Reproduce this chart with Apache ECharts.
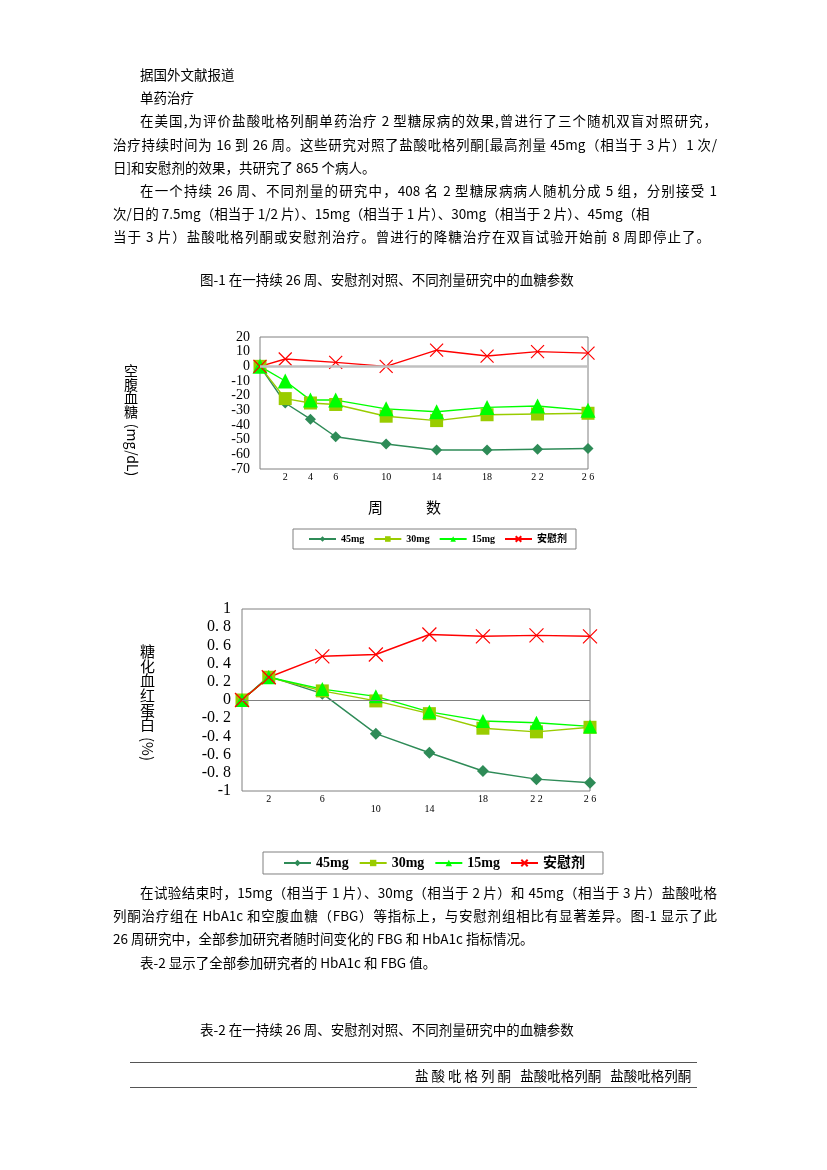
<!DOCTYPE html>
<html lang="zh">
<head>
<meta charset="UTF-8">
<title>盐酸吡格列酮 血糖参数</title>
<style>
  * { padding: 0; margin: 0; }
  body { background: #fff; }
  #page { position: relative; width: 827px; height: 1170px; overflow: hidden;
          font-family: "Noto Sans CJK SC", sans-serif; font-size: 13.5px; color: #000; }
  .ln { position: absolute; height: 20px; line-height: 20px; white-space: nowrap; }
  .jf { text-align: justify; text-align-last: justify; white-space: normal; }
  #main { position: absolute; left: 0; top: 0; width: 827px; height: 1170px; }
  .rule { position: absolute; left: 130px; width: 567px; border-top: 1.5px solid #555; }
</style>
</head>
<body>
<div id="page">
  <div id="main"></div>
  <div class="ln" style="left:140px;top:64px;">据国外文献报道</div>
  <div class="ln" style="left:140px;top:87px;">单药治疗</div>
  <div class="ln jf" style="left:140px;top:110px;width:577px;">在美国,为评价盐酸吡格列酮单药治疗 2 型糖尿病的效果,曾进行了三个随机双盲对照研究，</div>
  <div class="ln jf" style="left:113px;top:134px;width:604px;">治疗持续时间为 16 到 26 周。这些研究对照了盐酸吡格列酮[最高剂量 45mg（相当于 3 片）1 次/</div>
  <div class="ln" style="left:113px;top:157px;">日]和安慰剂的效果，共研究了 865 个病人。</div>
  <div class="ln jf" style="left:140px;top:180px;width:577px;">在一个持续 26 周、不同剂量的研究中，408 名 2 型糖尿病病人随机分成 5 组，分别接受 1</div>
  <div class="ln" style="left:113px;top:203px;">次/日的 7.5mg（相当于 1/2 片）、15mg（相当于 1 片）、30mg（相当于 2 片）、45mg（相</div>
  <div class="ln jf" style="left:113px;top:226px;width:597px;">当于 3 片）盐酸吡格列酮或安慰剂治疗。曾进行的降糖治疗在双盲试验开始前 8 周即停止了。</div>
  <div class="ln" style="left:200px;top:269px;">图-1 在一持续 26 周、安慰剂对照、不同剂量研究中的血糖参数</div>

  <div class="ln jf" style="left:140px;top:882px;width:577px;">在试验结束时，15mg（相当于 1 片）、30mg（相当于 2 片）和 45mg（相当于 3 片）盐酸吡格</div>
  <div class="ln jf" style="left:113px;top:905px;width:604px;">列酮治疗组在 HbA1c 和空腹血糖（FBG）等指标上，与安慰剂组相比有显著差异。图-1 显示了此</div>
  <div class="ln" style="left:113px;top:928px;">26 周研究中，全部参加研究者随时间变化的 FBG 和 HbA1c 指标情况。</div>
  <div class="ln" style="left:140px;top:952px;">表-2 显示了全部参加研究者的 HbA1c 和 FBG 值。</div>

  <div class="ln" style="left:200px;top:1019px;">表-2 在一持续 26 周、安慰剂对照、不同剂量研究中的血糖参数</div>
  <div class="rule" style="top:1062px;"></div>
  <div class="ln" style="left:415px;top:1065px;">盐 酸 吡 格 列 酮&nbsp;&nbsp;&nbsp;盐酸吡格列酮&nbsp;&nbsp;&nbsp;盐酸吡格列酮</div>
  <div class="rule" style="top:1087px;"></div>
</div>
<script src="https://cdn.jsdelivr.net/npm/echarts@6/dist/echarts.min.js"></script>
<script>
// 空腹血糖 (mg/dL) 变化
var fbgWeeks = [0, 2, 4, 6, 10, 14, 18, 22, 26];
var fbgPlaceboWeeks = [0, 2, 6, 10, 14, 18, 22, 26];
var fbg45 = [0, -25, -36, -48, -53, -57, -57, -56.5, -56];
var fbg30 = [0, -22, -25, -26, -34, -37, -33, -32.5, -32];
var fbg15 = [0, -10, -23, -23, -29, -31, -28, -27, -30];
var fbgPlacebo = [0, 5, 2.7, 0, 11, 7, 10, 9];
var fbgXLabels = {2: '2', 4: '4', 6: '6', 10: '10', 14: '14', 18: '18', 22: '2 2', 26: '2 6'};

// 糖化血红蛋白 (%) 变化
var hbWeeks = [0, 2, 6, 10, 14, 18, 22, 26];
var hb45 = [0, 0.26, 0.07, -0.37, -0.58, -0.78, -0.87, -0.91];
var hb30 = [0, 0.25, 0.1, -0.01, -0.15, -0.31, -0.35, -0.3];
var hb15 = [0, 0.25, 0.12, 0.04, -0.13, -0.23, -0.25, -0.29];
var hbPlacebo = [0, 0.25, 0.48, 0.5, 0.72, 0.7, 0.71, 0.7];
var hbXLabels = {2: '2', 6: '6', 10: '{lo|10}', 14: '{lo|14}', 18: '18', 22: '2 2', 26: '2 6'};

var names = ['45mg', '30mg', '15mg', '安慰剂'];
var colors = ['#2E8B57', '#99CC00', '#00FF00', '#FF0000'];
var crossPath = 'path://M0,0L10,10M10,0L0,10';

function pairs(weeks, vals) {
    return weeks.map(function (w, i) { return [w, vals[i]]; });
}

function mkSeries(idx, gi, weeks, vals, sizes) {
    var isCross = idx === 3;
    var s = {
        name: names[idx],
        type: 'line',
        xAxisIndex: gi,
        yAxisIndex: gi,
        data: pairs(weeks, vals),
        symbol: ['diamond', 'rect', 'triangle', crossPath][idx],
        symbolSize: sizes[idx],
        color: colors[idx],
        lineStyle: {color: colors[idx], width: 1.4},
        itemStyle: isCross
            ? {color: 'rgba(0,0,0,0)', borderColor: colors[idx], borderWidth: 1.2}
            : {color: colors[idx], borderWidth: 0},
        animation: false
    };
    if (idx === 0) {
        // 零线
        s.markLine = {
            silent: true,
            symbol: ['none', 'none'],
            label: {show: false},
            data: [{yAxis: 0}],
            lineStyle: gi === 0
                ? {color: '#C0C0C0', width: 2.5, type: 'solid'}
                : {color: '#808080', width: 1, type: 'solid'}
        };
    }
    return s;
}

var serifFont = '"Liberation Serif", "Noto Sans CJK SC", serif';
var cjkFont = '"Noto Sans CJK SC", sans-serif';

var option = {
    backgroundColor: 'transparent',
    animation: false,
    grid: [
        {left: 260, top: 337, width: 328, height: 132, show: true, borderColor: '#808080', borderWidth: 1, backgroundColor: 'transparent'},
        {left: 242, top: 609, width: 348, height: 182, show: true, borderColor: '#808080', borderWidth: 1, backgroundColor: 'transparent'}
    ],
    xAxis: [
        {
            type: 'value', gridIndex: 0, min: 0, max: 26, interval: 2,
            axisLine: {show: false}, axisTick: {show: false}, splitLine: {show: false},
            axisLabel: {
                margin: 3, color: '#000', fontSize: 10, fontFamily: serifFont,
                showMinLabel: true, showMaxLabel: true, hideOverlap: false,
                formatter: function (v) { return fbgXLabels[v] || ''; }
            }
        },
        {
            type: 'value', gridIndex: 1, min: 0, max: 26, interval: 2,
            axisLine: {show: false}, axisTick: {show: false}, splitLine: {show: false},
            axisLabel: {
                margin: 3, color: '#000', fontSize: 10, fontFamily: serifFont,
                showMinLabel: true, showMaxLabel: true, hideOverlap: false,
                formatter: function (v) { return hbXLabels[v] || ''; },
                rich: {lo: {fontSize: 10, fontFamily: serifFont, padding: [10, 0, 0, 0]}}
            }
        }
    ],
    yAxis: [
        {
            type: 'value', gridIndex: 0, min: -70, max: 20, interval: 10,
            axisLine: {show: false}, axisTick: {show: false}, splitLine: {show: false},
            axisLabel: {
                margin: 10, color: '#000', fontSize: 14, fontFamily: serifFont,
                showMinLabel: true, showMaxLabel: true, hideOverlap: false
            }
        },
        {
            type: 'value', gridIndex: 1, min: -1, max: 1, interval: 0.2,
            axisLine: {show: false}, axisTick: {show: false}, splitLine: {show: false},
            axisLabel: {
                margin: 11, color: '#000', fontSize: 16, fontFamily: serifFont,
                showMinLabel: true, showMaxLabel: true, hideOverlap: false,
                formatter: function (v) {
                    if (Math.abs(v) < 1e-9) return '0';
                    if (Math.abs(Math.abs(v) - 1) < 1e-9) return v < 0 ? '-1' : '1';
                    return v.toFixed(1).replace('.', '. ');
                }
            }
        }
    ],
    legend: [
        {
            data: names, left: 293, top: 529, orient: 'horizontal',
            padding: [5, 9, 5, 15], itemGap: 9, itemWidth: 27, itemHeight: 7,
            borderColor: '#808080', borderWidth: 1,
            textStyle: {fontSize: 10, fontWeight: 'bold', fontFamily: serifFont, color: '#000'}
        },
        {
            data: names, left: 263, top: 852, orient: 'horizontal',
            padding: [4, 18, 4, 20], itemGap: 10, itemWidth: 27, itemHeight: 8,
            borderColor: '#808080', borderWidth: 1,
            textStyle: {fontSize: 14, fontWeight: 'bold', fontFamily: serifFont, color: '#000'}
        }
    ],
    graphic: [
        {type: 'text', left: 124, top: 364, style: {text: '空\n腹\n血\n糖', font: '14px ' + cjkFont, lineHeight: 13.5, fill: '#000'}},
        {type: 'text', x: 132, y: 450, rotation: -Math.PI / 2, style: {text: '(mg/dL)', font: '14px ' + cjkFont, fill: '#000', align: 'center', verticalAlign: 'middle'}},
        {type: 'text', left: 368, top: 500, style: {text: '周', font: '15px ' + cjkFont, fill: '#000'}},
        {type: 'text', left: 426, top: 500, style: {text: '数', font: '15px ' + cjkFont, fill: '#000'}},
        {type: 'text', left: 140, top: 644, style: {text: '糖\n化\n血\n红\n蛋\n白', font: '15px ' + cjkFont, lineHeight: 14.6, fill: '#000'}},
        {type: 'text', x: 148, y: 749, rotation: -Math.PI / 2, style: {text: '(%)', font: '15px ' + cjkFont, fill: '#000', align: 'center', verticalAlign: 'middle'}}
    ],
    series: [
        mkSeries(0, 0, fbgWeeks, fbg45, [11, 12, 14, 13]),
        mkSeries(1, 0, fbgWeeks, fbg30, [11, 13, 14, 13]),
        mkSeries(2, 0, fbgWeeks, fbg15, [11, 12, 15, 13]),
        mkSeries(3, 0, fbgPlaceboWeeks, fbgPlacebo, [11, 12, 14, 13]),
        mkSeries(0, 1, hbWeeks, hb45, [12, 13, 14, 14]),
        mkSeries(1, 1, hbWeeks, hb30, [12, 13, 14, 14]),
        mkSeries(2, 1, hbWeeks, hb15, [12, 13, 14, 14]),
        mkSeries(3, 1, hbWeeks, hbPlacebo, [12, 13, 14, 14])
    ]
};

var myChart = echarts.init(document.getElementById('main'));
myChart.setOption(option);
</script>
</body>
</html>
